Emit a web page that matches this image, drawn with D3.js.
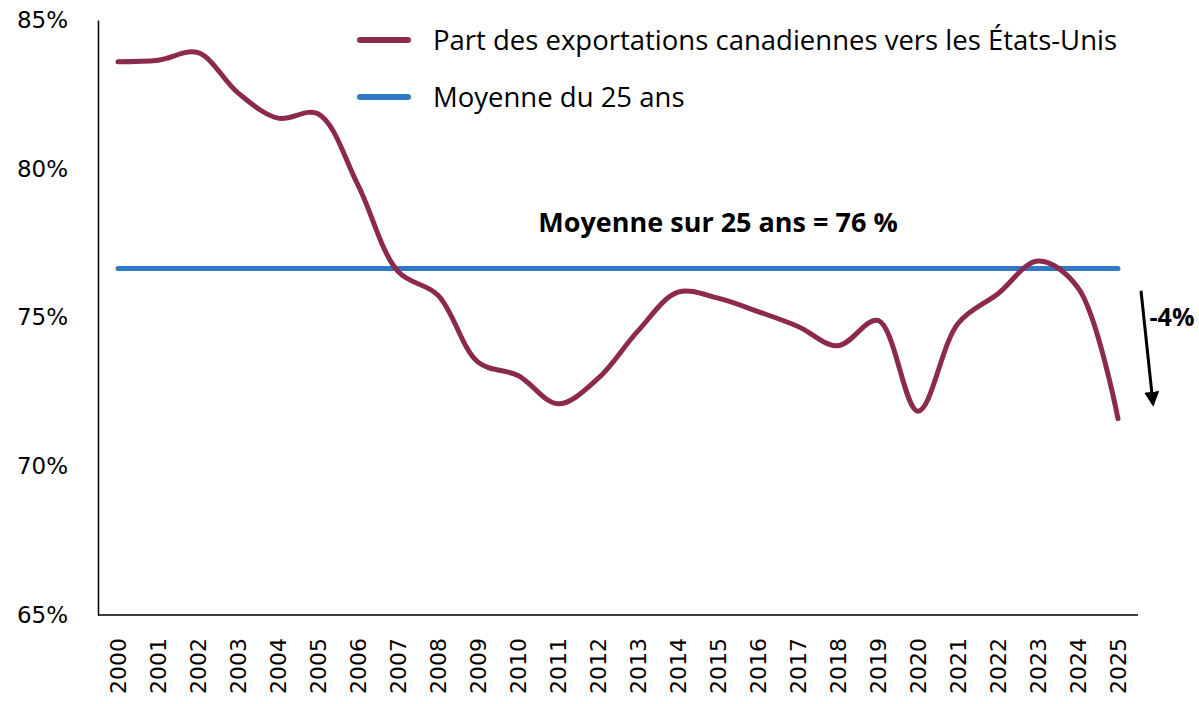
<!DOCTYPE html>
<html>
<head>
<meta charset="utf-8">
<script src="https://cdn.jsdelivr.net/npm/d3@7"></script>
<style>
  body { margin: 0; background: #fff; }
  text { font-family: "Open Sans", sans-serif; }
</style>
</head>
<body>
<div id="chart"></div>
<script>
var canvas_width = 1199,
    canvas_height = 704;

// data
var years = d3.range(2000, 2026).map(String);
var shareUS = [83.6, 83.65, 83.9, 82.55, 81.7, 81.85, 79.45, 76.55, 75.75, 73.5, 73.05, 72.1,
               72.95, 74.55, 75.85, 75.65, 75.2, 74.7, 74.05, 74.9, 71.85, 74.8, 75.8, 76.9, 76.0, 71.6];
var average25 = 76.65;
var yTicks = [65, 70, 75, 80, 85];
var seriesNames = ["Part des exportations canadiennes vers les États-Unis", "Moyenne du 25 ans"];
var colors = ["#8b2a4e", "#3079c5"];

var margin = { top: 20, right: 61, bottom: 89, left: 98 };
var width = canvas_width - margin.left - margin.right;
var height = canvas_height - margin.top - margin.bottom;

var svg = d3.select("#chart")
    .append("svg")
    .attr("width", canvas_width)
    .attr("height", canvas_height);

var g = svg.append("g")
    .attr("transform", "translate(" + margin.left + "," + margin.top + ")");

var xScale = d3.scalePoint()
    .domain(years)
    .range([20, 1020]);

var yScale = d3.scaleLinear()
    .domain([65, 85])
    .range([height, 0]);

// Axes
var xAxis = g.append("g")
    .attr("transform", "translate(0," + height + ")")
    .call(d3.axisBottom(xScale).tickSize(0).tickPadding(0));
xAxis.select(".domain").attr("d", "M0,0H" + width).attr("stroke", "#000").attr("stroke-width", 1.5);
xAxis.selectAll("text")
    .attr("transform", "rotate(-90)")
    .attr("x", -23)
    .attr("y", 0)
    .attr("dy", "0.35em")
    .style("text-anchor", "end")
    .style("font-family", "DejaVu Sans")
    .style("font-size", "22px")
    .attr("fill", "#000");

var yAxis = g.append("g")
    .call(d3.axisLeft(yScale).tickValues(yTicks).tickSize(0).tickPadding(30).tickFormat(d => d + "%"));
yAxis.select(".domain").attr("stroke", "#000").attr("stroke-width", 1.5);
yAxis.selectAll("text")
    .style("font-family", "DejaVu Sans")
    .style("font-size", "23px")
    .attr("fill", "#000");

// average line
g.append("line")
    .attr("x1", xScale(years[0]))
    .attr("x2", xScale(years[years.length - 1]))
    .attr("y1", yScale(average25))
    .attr("y2", yScale(average25))
    .attr("stroke", colors[1])
    .attr("stroke-width", 5)
    .attr("stroke-linecap", "round");

// share line
var line = d3.line()
    .x((d, i) => xScale(years[i]))
    .y(d => yScale(d))
    .curve(d3.curveCatmullRom.alpha(0.5));

g.append("path")
    .datum(shareUS)
    .attr("fill", "none")
    .attr("stroke", colors[0])
    .attr("stroke-width", 5)
    .attr("stroke-linecap", "round")
    .attr("d", line);

// annotation
g.append("text")
    .attr("x", xScale("2010") + 200)
    .attr("y", yScale(average25) - 36)
    .attr("text-anchor", "middle")
    .style("font-size", "27px")
    .style("font-weight", "bold")
    .text("Moyenne sur 25 ans = 76 %");

// arrow
svg.append("defs").append("marker")
    .attr("id", "arrowhead")
    .attr("viewBox", "0 0 10 10")
    .attr("refX", 8).attr("refY", 5)
    .attr("markerWidth", 5).attr("markerHeight", 5)
    .attr("orient", "auto")
    .append("path")
    .attr("d", "M0,0L10,5L0,10z")
    .attr("fill", "#000");

g.append("line")
    .attr("x1", xScale("2025") + 23)
    .attr("y1", yScale(75.9))
    .attr("x2", xScale("2025") + 35)
    .attr("y2", yScale(72.1))
    .attr("stroke", "#000")
    .attr("stroke-width", 3)
    .attr("marker-end", "url(#arrowhead)");

g.append("text")
    .attr("x", xScale("2025") + 54)
    .attr("y", yScale(74.7))
    .attr("text-anchor", "middle")
    .style("font-size", "25px")
    .style("font-weight", "bold")
    .text("-4%");

// legend
var legend = g.selectAll(".legend")
    .data(seriesNames)
    .enter()
    .append("g")
    .attr("transform", (d, i) => "translate(262," + (20 + i * 57) + ")");

legend.append("line")
    .attr("x1", 0).attr("x2", 48)
    .attr("stroke", (d, i) => colors[i])
    .attr("stroke-width", 6)
    .attr("stroke-linecap", "round");

legend.append("text")
    .attr("x", 73)
    .attr("dy", "0.35em")
    .style("font-size", "27.5px")
    .text(d => d);
</script>
</body>
</html>
